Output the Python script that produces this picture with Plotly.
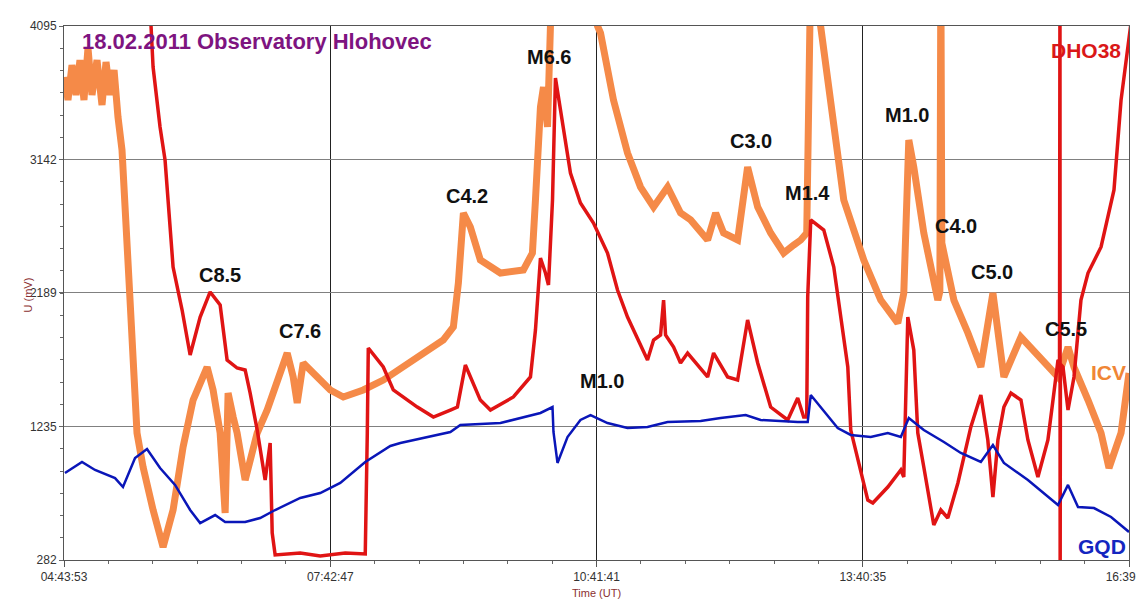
import plotly.graph_objects as go

# ---------------- data (time in decimal hours UT, values in mV) ----------------
x_tick_labels = ["04:43:53", "07:42:47", "10:41:41", "13:40:35", "16:39:29"]
y_tick_values = [282, 1235, 2189, 3142, 4095]

icv_t = [4.742, 4.776, 4.821, 4.866, 4.910, 4.955, 5.000, 5.045, 5.101, 5.157, 5.202,
         5.247, 5.292, 5.314, 5.336, 5.381, 5.415, 5.471, 5.549,
         5.617, 5.729, 5.841, 5.953, 6.065, 6.177, 6.334, 6.401, 6.480, 6.536, 6.569,
         6.626, 6.670, 6.760, 6.850, 6.895, 7.007, 7.152, 7.231, 7.298, 7.343, 7.410,
         7.567, 7.713, 7.859, 8.083, 8.307, 8.531, 8.755, 8.980, 9.092, 9.148, 9.204,
         9.282, 9.394, 9.619, 9.876, 9.977, 10.011, 10.067, 10.101, 10.146, 10.179,
         10.235, 10.628, 10.706, 10.740, 10.885, 11.042, 11.188, 11.334, 11.491, 11.636,
         11.749, 11.939, 12.029, 12.118, 12.275, 12.387, 12.500, 12.645, 12.791, 12.903,
         12.982, 13.049, 13.071, 13.094, 13.206, 13.318, 13.464, 13.688, 13.878, 14.069,
         14.136, 14.192, 14.248, 14.360, 14.517, 14.540, 14.551, 14.562, 14.697, 14.854,
         14.999, 15.134, 15.257, 15.448, 15.672, 15.863, 15.975, 16.042, 16.199, 16.345,
         16.434, 16.569, 16.658]
icv_v = [3731, 3566, 3816, 3602, 3852, 3566, 3938, 3602, 3852, 3531, 3838,
         3602, 3781, 3566, 3445, 3209, 2852, 2138, 1189,
         946, 639, 375, 639, 1089, 1424, 1660, 1496, 1189, 618, 1474,
         1303, 1189, 853, 1067, 1189, 1353, 1639, 1760, 1589, 1403, 1689,
         1589, 1496, 1446, 1496, 1567, 1660, 1760, 1853, 1946, 2260, 2760,
         2660, 2424, 2331, 2353, 2474, 2852, 3516, 3659, 3374, 4095,
         4500, 4500, 4095, 4045, 3566, 3188, 2945, 2802, 2945, 2760,
         2710, 2567, 2760, 2617, 2567, 3088, 2802, 2617, 2474, 2531,
         2567, 2617, 4500, 4500, 4088, 3566, 2852, 2424, 2138, 1974,
         2188, 3281, 3088, 2617, 2138, 2200, 4500, 2545, 2138, 1903,
         1660, 2188, 1589, 1874, 1710, 1589, 1803, 1660, 1424, 1189,
         939, 1189, 1617]

dho_t = [5.673, 5.706, 5.729, 5.807, 5.863, 5.897, 5.953, 6.054, 6.144, 6.256, 6.368,
         6.480, 6.558, 6.670, 6.760, 6.816, 6.895, 6.984, 7.018, 7.040, 7.063, 7.096,
         7.377, 7.601, 7.881, 8.105, 8.128, 8.139, 8.307, 8.419, 8.688, 8.868, 9.058,
         9.137, 9.226, 9.394, 9.507, 9.764, 9.955, 10.011, 10.067, 10.123, 10.157,
         10.202, 10.235, 10.325, 10.403, 10.515, 10.661, 10.818, 10.930, 11.042, 11.266,
         11.334, 11.412, 11.446, 11.468, 11.558, 11.636, 11.715, 11.939, 12.006, 12.163,
         12.275, 12.387, 12.500, 12.645, 12.836, 12.948, 13.015, 13.049, 13.060, 13.094,
         13.240, 13.352, 13.509, 13.542, 13.733, 13.789, 13.957, 14.103, 14.136, 14.159,
         14.181, 14.248, 14.293, 14.360, 14.472, 14.551, 14.629, 14.742, 14.887, 14.999,
         15.077, 15.134, 15.190, 15.257, 15.336, 15.448, 15.526, 15.638, 15.750, 15.807,
         15.863, 15.880, 15.885, 15.887, 15.890, 15.919, 15.975, 16.042, 16.120, 16.199,
         16.345, 16.490, 16.569, 16.681]
dho_v = [4200, 4095, 3802, 3374, 3138, 2852, 2374, 2067, 1746, 2017, 2196,
         2103, 1710, 1653, 1639, 1474, 1210, 853, 996, 1117, 475, 318,
         332, 311, 332, 325, 1189, 1796, 1660, 1496, 1374, 1303, 1353,
         1374, 1674, 1424, 1353, 1446, 1589, 1924, 2438, 2331, 2246,
         2852, 3723, 3374, 3045, 2831, 2688, 2474, 2210, 2017, 1710,
         1853, 1889, 2138, 1889, 1803, 1689, 1760, 1589, 1760, 1589,
         1567, 1996, 1689, 1374, 1282, 1439, 1303, 1303, 2160, 2710,
         2638, 2374, 1660, 1210, 710, 689, 803, 925, 875, 1500,
         2017, 1781, 1189, 946, 532, 639, 582, 832, 1232, 1460,
         1139, 732, 1139, 1374, 1474, 1424, 1139, 875, 1139, 1424,
         1710, 1700, 4500, 100, 1680, 1660, 1353, 1589, 2138, 2331,
         2517, 2924, 3566, 4120]

gqd_t = [4.742, 4.933, 5.079, 5.303, 5.392, 5.527, 5.661, 5.807, 5.975, 6.144, 6.256,
         6.424, 6.536, 6.760, 6.928, 7.096, 7.377, 7.601, 7.825, 8.105, 8.386, 8.498,
         9.058, 9.170, 9.619, 10.067, 10.202, 10.213, 10.258, 10.370, 10.515, 10.628,
         10.818, 11.042, 11.266, 11.491, 11.861, 12.085, 12.365, 12.533, 12.948, 13.060,
         13.094, 13.206, 13.396, 13.542, 13.766, 13.957, 14.103, 14.192, 14.360, 14.585,
         14.775, 14.999, 15.134, 15.257, 15.526, 15.863, 15.975, 16.087, 16.266, 16.457,
         16.658]
gqd_v = [903, 982, 925, 867, 803, 1010, 1075, 939, 818, 639, 546,
         603, 553, 553, 582, 639, 725, 760, 832, 982, 1096, 1117,
         1196, 1246, 1260, 1332, 1374, 1196, 975, 1160, 1282, 1317,
         1260, 1224, 1232, 1267, 1274, 1296, 1317, 1282, 1267, 1267,
         1460, 1374, 1224, 1175, 1160, 1189, 1160, 1296, 1210, 1125,
         1046, 982, 1103, 975, 853, 675, 818, 660, 653, 589,
         482]

# flare labels: (text, time h, value mV)
flare_text = ["C8.5", "C7.6", "C4.2", "M6.6", "M1.0", "C3.0", "M1.4", "M1.0", "C4.0", "C5.0", "C5.5"]
flare_t = [6.480, 7.377, 9.249, 10.168, 10.751, 12.421, 13.060, 14.170, 14.719, 15.123, 15.952]
flare_v = [2317, 1917, 2881, 3873, 1560, 3274, 2902, 3459, 2667, 2338, 1931]


def hms_to_h(s):
    h, m, sec = (int(p) for p in s.split(":"))
    return h + m / 60 + sec / 3600


x_tick_values = [hms_to_h(s) for s in x_tick_labels]
x0, x1 = x_tick_values[0], x_tick_values[-1]

ORANGE = "#F58A48"
RED = "#E01414"
BLUE = "#0A16B8"
FONT = "Liberation Sans"

fig = go.Figure()
fig.add_trace(go.Scatter(x=icv_t, y=icv_v, mode="lines", name="ICV",
                         line=dict(color=ORANGE, width=7)))
fig.add_trace(go.Scatter(x=dho_t, y=dho_v, mode="lines", name="DHO38",
                         line=dict(color=RED, width=3.5)))
fig.add_trace(go.Scatter(x=gqd_t, y=gqd_v, mode="lines", name="GQD",
                         line=dict(color=BLUE, width=2.5)))

annotations = [
    dict(x=4.910, y=3981, text="18.02.2011 Observatory Hlohovec", xanchor="left",
         font=dict(family=FONT, size=22, color="#7E1480", weight="bold"), showarrow=False),
    dict(x=16.591, y=3923, text="DHO38", xanchor="right",
         font=dict(family=FONT, size=21, color="#DA1818", weight="bold"), showarrow=False),
    dict(x=16.647, y=1624, text="ICV", xanchor="right",
         font=dict(family=FONT, size=21, color="#F08636", weight="bold"), showarrow=False),
    dict(x=16.647, y=382, text="GQD", xanchor="right",
         font=dict(family=FONT, size=21, color="#1426C0", weight="bold"), showarrow=False),
    dict(x=-0.041, y=0.496, xref="paper", yref="paper", text="U (mV)", textangle=-90,
         font=dict(family=FONT, size=11, color="#8B3030"), showarrow=False),
    dict(x=0.5, y=-0.062, xref="paper", yref="paper", text="Time (UT)", yanchor="middle",
         font=dict(family=FONT, size=11, color="#8B3030"), showarrow=False),
]
for txt, t, v in zip(flare_text, flare_t, flare_v):
    annotations.append(dict(x=t, y=v, text=txt, showarrow=False,
                            font=dict(family=FONT, size=20, color="#111111", weight="bold")))

# page body has an 8px margin, so the figure is sized to fit inside the window
fig.update_layout(
    width=1136, height=593,
    margin=dict(l=56, r=15, t=18, b=41, autoexpand=False),
    paper_bgcolor="white", plot_bgcolor="white",
    showlegend=False,
    annotations=annotations,
    font=dict(family=FONT, size=12, color="#333333"),
)
fig.update_xaxes(
    range=[x0, x1], tickmode="array", tickvals=x_tick_values, ticktext=x_tick_labels,
    automargin=False,
    showgrid=True, gridcolor="#222222", gridwidth=1,
    showline=True, linecolor="#555555", linewidth=1, mirror=True,
    ticks="outside", ticklen=6, tickcolor="#555555", zeroline=False,
    ticklabeloverflow="allow",
    tickfont=dict(size=12, color="#333333"),
    minor=dict(tick0=x0, dtick=(x1 - x0) / 24, ticks="outside", ticklen=3,
               tickcolor="#666666", showgrid=False),
)
fig.update_yaxes(
    range=[y_tick_values[0], y_tick_values[-1]], tickmode="array", tickvals=y_tick_values,
    automargin=False,
    showgrid=True, gridcolor="#808080", gridwidth=1,
    showline=True, linecolor="#555555", linewidth=1, mirror=True,
    ticks="outside", ticklen=4, tickcolor="#666666", zeroline=False,
    tickfont=dict(size=12, color="#333333"),
    minor=dict(tick0=y_tick_values[0], dtick=(y_tick_values[-1] - y_tick_values[0]) / 24,
               ticks="outside", ticklen=3, tickcolor="#666666", showgrid=False),
)

fig.write_html("out.html")
